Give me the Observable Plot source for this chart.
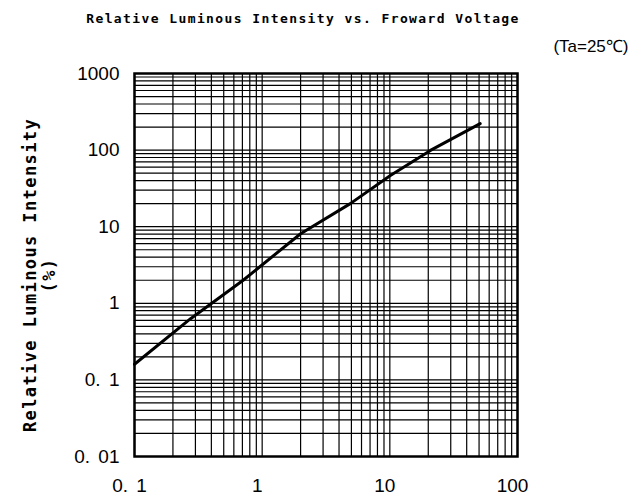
<!DOCTYPE html>
<html>
<head>
<meta charset="utf-8">
<script src="https://cdn.jsdelivr.net/npm/d3@7"></script>
<script src="https://cdn.jsdelivr.net/npm/@observablehq/plot@0.6"></script>
<style>
  html, body { margin: 0; padding: 0; background: #fff; }
  .title-text { letter-spacing: 1.4px; }
  .ylabel-text { letter-spacing: 1.4px; }
  .tick-spaced { word-spacing: 3px; }
</style>
</head>
<body>
<div id="chart"></div>
<script>
// Curve
const curveX = [0.1, 0.275, 0.71, 2.0, 4.9, 10.1, 20.8, 51];
const curveY = [0.16, 0.63, 2.0, 8.1, 20, 46.5, 99, 222];

const xTickValues = [0.1, 1, 10, 100];
const xTickLabels = ["0. 1", "1", "10", "100"];
const yTickValues = [0.01, 0.1, 1, 10, 100, 1000];
const yTickLabels = ["0. 01", "0. 1", "1", "10", "100", "1000"];

const titleText = "Relative Luminous Intensity vs. Froward Voltage";
const conditionText = "(Ta=25℃)";
const yLabelText = "Relative Luminous Intensity\n(%)";

const data = curveX.map((x, i) => ({x, y: curveY[i]}));
const xGrid = d3.scaleLog().domain([0.1, 100]).ticks();
const yGrid = d3.scaleLog().domain([0.01, 1000]).ticks();
const xLab = new Map(xTickValues.map((v, i) => [v, xTickLabels[i]]));
const yLab = new Map(yTickValues.map((v, i) => [v, yTickLabels[i]]));

const chart = Plot.plot({
  width: 630,
  height: 498,
  marginLeft: 134,
  marginRight: 113,
  marginTop: 73,
  marginBottom: 42,
  style: {fontFamily: "'Liberation Sans', Arial, sans-serif", background: "#fff", color: "#000"},
  x: {type: "log", domain: [0.1, 100]},
  y: {type: "log", domain: [0.01, 1000]},
  marks: [
    Plot.gridX(xGrid, {stroke: "#000", strokeOpacity: 1, strokeWidth: 1.2}),
    Plot.gridY(yGrid, {stroke: "#000", strokeOpacity: 1, strokeWidth: 1.2}),
    Plot.frame({stroke: "#000", strokeWidth: 2.5}),
    Plot.axisX(xTickValues, {tickSize: 0, tickPadding: 22, dx: -5, fontSize: 19, tickFormat: d => xLab.get(d), label: null}),
    Plot.axisY(yTickValues, {tickSize: 0, tickPadding: 15, fontSize: 19, tickFormat: d => yLab.get(d), label: null}),
    Plot.line(data, {x: "x", y: "y", stroke: "#000", strokeWidth: 3}),
    Plot.text([titleText], {frameAnchor: "top", textAnchor: "middle", lineAnchor: "middle", dx: -23, dy: -55,
      fontSize: 13, fontWeight: "bold", fontFamily: "'DejaVu Sans Mono', monospace"}),
    Plot.text([conditionText], {frameAnchor: "top-right", textAnchor: "end", lineAnchor: "middle", dx: 111, dy: -27, fontSize: 17}),
    Plot.text([yLabelText], {frameAnchor: "left", textAnchor: "middle", lineAnchor: "middle", dx: -95, dy: 10,
      rotate: -90, fontSize: 17, lineHeight: 1.12,
      fontFamily: "'DejaVu Sans Mono', monospace", fontWeight: "bold"})
  ]
});
const spacedLabels = new Set([...xTickLabels, ...yTickLabels].filter(s => s.includes(" ")));
d3.select(chart).selectAll("text").each(function() {
  const t = this.textContent;
  if (t === titleText) this.classList.add("title-text");
  if (spacedLabels.has(t)) this.classList.add("tick-spaced");
  if (t.startsWith("Relative Luminous Intensity") && t !== titleText) {
    d3.select(this.parentNode).selectAll("text").classed("ylabel-text", true);
  }
});
document.getElementById("chart").appendChild(chart);
</script>
</body>
</html>
